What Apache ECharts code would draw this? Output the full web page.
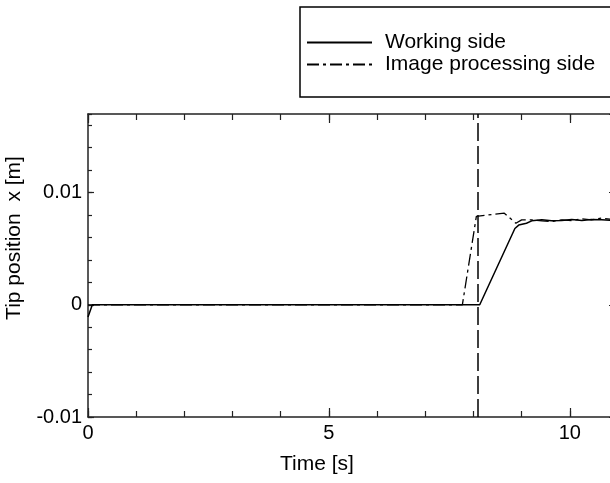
<!DOCTYPE html>
<html>
<head>
<meta charset="utf-8">
<script src="https://cdn.jsdelivr.net/npm/echarts@6/dist/echarts.min.js"></script>
<style>
html,body{margin:0;padding:0;background:#fff;}
#chart{width:610px;height:483px;}
</style>
</head>
<body>
<div id="chart"></div>
<script>
// ---- data ----
var workingTime  = [0, 0.09, 8.13, 8.86, 8.94, 9.10, 9.21, 9.42, 9.62, 9.83, 10.04, 10.25, 10.45, 10.66, 10.83, 11];
var workingValue = [-0.0011, 0, 0, 0.0068, 0.0071, 0.00727, 0.00748, 0.00757, 0.00748, 0.0075, 0.0076, 0.0075, 0.0076, 0.00757, 0.00754, 0.0076];

var imageTime  = [0, 7.77, 8.06, 8.44, 8.64, 8.88, 9.0, 9.21, 9.42, 9.62, 9.83, 10.04, 10.25, 10.45, 10.66, 10.83, 11];
var imageValue = [0, 0, 0.00787, 0.00807, 0.00816, 0.00727, 0.00757, 0.00757, 0.00748, 0.00742, 0.00757, 0.0075, 0.00766, 0.00757, 0.00772, 0.00763, 0.0077];

var eventTime = [8.08];

var seriesNames = ['Working side', 'Image processing side'];
var xAxisName = 'Time [s]';
var yAxisName = 'Tip position  x [m]';

var xMin = 0, xMax = 11, xMajor = 5, xMinor = 1;
var yMin = -0.01, yMax = 0.017, yMajor = 0.01, yMinor = 0.002;

function pairs(xs, ys) { return xs.map(function (x, i) { return [x, ys[i]]; }); }

var FONT = 'Liberation Sans, Arial, Helvetica, sans-serif';
var AX = '#222';

function xAx(pos, interval, len, showLine, showLabel) {
  return {
    type: 'value', position: pos, min: xMin, max: xMax, interval: interval,
    axisLine: { show: showLine, onZero: false, lineStyle: { color: AX, width: 1.5 } },
    axisTick: { show: true, inside: true, length: len, lineStyle: { color: AX, width: 1.2 } },
    axisLabel: { show: showLabel, showMaxLabel: false, margin: 6, color: '#000', fontSize: 20, fontFamily: FONT },
    splitLine: { show: false }
  };
}
function yAx(pos, interval, len, showLine, showLabel) {
  return {
    type: 'value', position: pos, min: yMin, max: yMax, interval: interval,
    axisLine: { show: showLine, onZero: false, lineStyle: { color: AX, width: 1.5 } },
    axisTick: { show: true, inside: true, length: len, lineStyle: { color: AX, width: 1.2 } },
    axisLabel: { show: showLabel, showMaxLabel: false, margin: 6, color: '#000', fontSize: 20, fontFamily: FONT },
    splitLine: { show: false }
  };
}

var chart = echarts.init(document.getElementById('chart'), null, { renderer: 'canvas' });
chart.setOption({
  animation: false,
  backgroundColor: '#fff',
  grid: { left: 88, top: 114, width: 530, height: 303, containLabel: false, outerBoundsMode: 'none' },
  xAxis: [
    xAx('bottom', xMajor, 9, true, true),
    xAx('bottom', xMinor, 6, false, false),
    xAx('top', xMajor, 9, true, false),
    xAx('top', xMinor, 6, false, false)
  ],
  yAxis: [
    yAx('left', yMajor, 6, true, true),
    yAx('left', yMinor, 4, false, false),
    yAx('right', yMajor, 9, true, false),
    yAx('right', yMinor, 4, false, false)
  ],
  legend: {
    orient: 'vertical', left: 300, top: 7,
    padding: [25, 60, 22, 6],
    borderColor: '#000', borderWidth: 1.5,
    itemWidth: 65, itemHeight: 20, itemGap: 1,
    itemStyle: { opacity: 0, borderWidth: 0 },
    textStyle: { color: '#000', fontSize: 21, fontFamily: FONT, padding: [0, 0, 0, 8] },
    data: seriesNames
  },
  series: [
    {
      name: seriesNames[0], type: 'line', xAxisIndex: 0, yAxisIndex: 0,
      data: pairs(workingTime, workingValue),
      symbol: 'none', showSymbol: false,
      lineStyle: { color: '#000', width: 1.5, type: 'solid' },
      itemStyle: { color: '#000' },
      markLine: {
        silent: true, symbol: ['none', 'none'],
        label: { show: false },
        lineStyle: { color: '#000', width: 1.5, type: [18, 5] },
        data: eventTime.map(function (t) { return { xAxis: t }; })
      },
      z: 3
    },
    {
      name: seriesNames[1], type: 'line', xAxisIndex: 0, yAxisIndex: 0,
      data: pairs(imageTime, imageValue),
      symbol: 'none', showSymbol: false,
      lineStyle: { color: '#000', width: 1.3, type: [12, 4, 3, 4] },
      itemStyle: { color: '#000' },
      z: 2
    }
  ],
  graphic: [
    {
      type: 'text', left: 280, top: 454,
      style: { text: xAxisName, fontSize: 21, fontFamily: FONT, fill: '#000' }
    },
    {
      type: 'text', x: 14, y: 238, rotation: Math.PI / 2,
      style: { text: yAxisName, fontSize: 21, fontFamily: FONT, fill: '#000', align: 'center', verticalAlign: 'middle' }
    }
  ]
});
</script>
</body>
</html>
